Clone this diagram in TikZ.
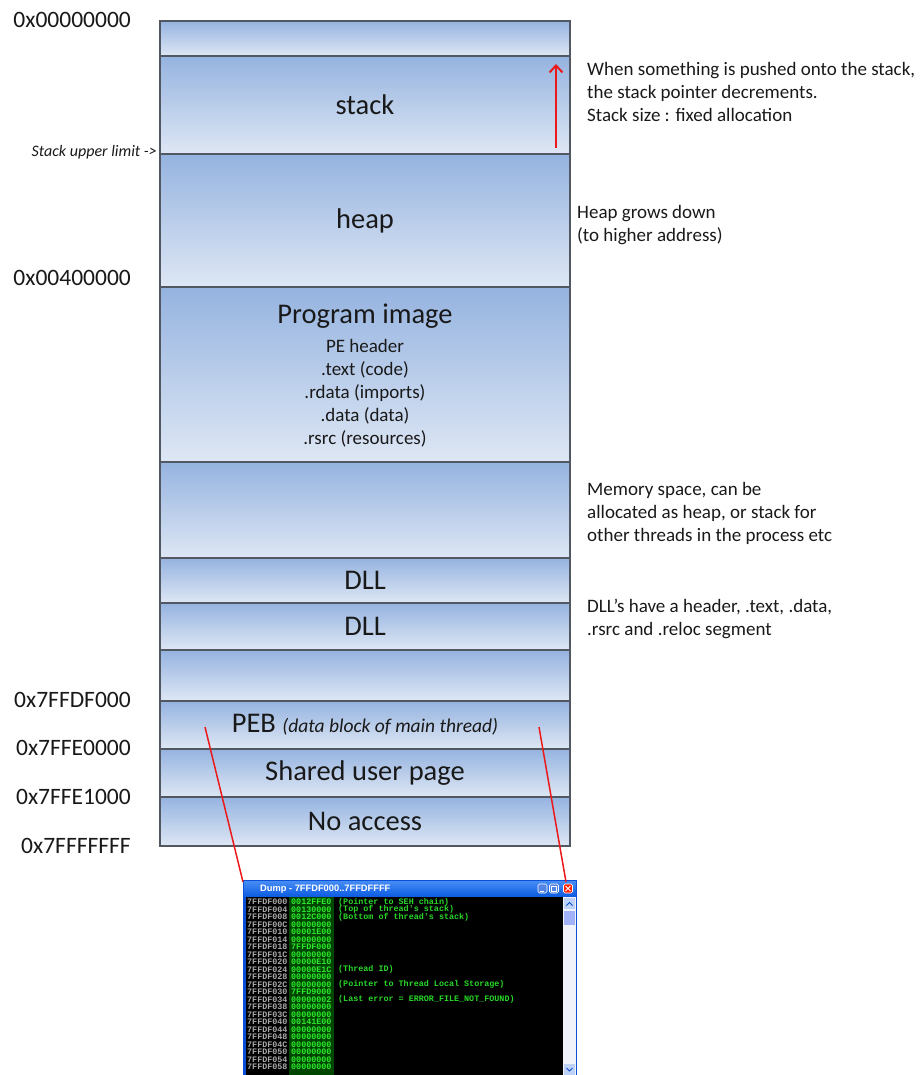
\documentclass[tikz,border=0pt]{standalone}
\usepackage{fontspec}
\setmainfont{Carlito}
\newfontfamily\monof{Liberation Mono}
\newfontfamily\titlef{Liberation Sans}
\usetikzlibrary{arrows.meta}
\definecolor{rowtop}{RGB}{149,179,224}
\definecolor{rowbot}{RGB}{222,231,244}
\definecolor{rowline}{RGB}{82,88,98}
\definecolor{txt}{RGB}{25,25,25}
\definecolor{redline}{RGB}{235,25,25}
\definecolor{winblue}{RGB}{10,80,215}
\definecolor{titletop}{RGB}{70,140,245}
\definecolor{titlebot}{RGB}{10,90,225}
\definecolor{addrgray}{RGB}{170,170,170}
\definecolor{valgreen}{RGB}{45,235,45}
\definecolor{valbg}{RGB}{0,70,0}
\definecolor{cmtgreen}{RGB}{40,215,40}
\definecolor{scrollbg}{RGB}{240,243,250}
\definecolor{scrollbtn}{RGB}{190,210,247}
\begin{document}
\begin{tikzpicture}[x=1pt,y=-1pt,
  memrow/.style={draw=rowline, line width=1.6pt, top color=rowtop, bottom color=rowbot,
    minimum width=410pt, inner sep=0pt, text=txt, font=\fontsize{28.5}{30}\selectfont},
  addr/.style={anchor=east, inner sep=0pt, text=txt, font=\fontsize{23.5}{25}\selectfont},
  note/.style={anchor=north west, align=left, inner sep=0pt, text=txt, font=\fontsize{19}{23}\selectfont},
  sub/.style={anchor=north, align=center, inner sep=0pt, text=txt, font=\fontsize{19}{23}\selectfont},
  redstroke/.style={draw=redline, line width=1.8pt},
  dumpaddr/.style={anchor=west, inner sep=0pt, text=addrgray, font=\monof\bfseries\fontsize{8.4}{8.4}\selectfont},
  dumpval/.style={anchor=west, inner sep=0pt, text=valgreen, font=\monof\bfseries\fontsize{8.4}{8.4}\selectfont},
  dumpcmt/.style={anchor=west, inner sep=0pt, text=cmtgreen, font=\monof\bfseries\fontsize{8.4}{8.4}\selectfont},
  winbtn/.style={draw=white, line width=0.6pt, fill=winblue!70!white, rounded corners=1.5pt, minimum width=9pt, minimum height=9pt, inner sep=0pt},
]
\useasboundingbox (0,0) rectangle (923,1075);

% ---------- memory rows ----------
\node[memrow, minimum height=35pt]  (r0)     at (365,38.5) {};
\node[memrow, minimum height=98pt]  (stack)  at (365,105)  {stack};
\node[memrow, minimum height=133pt] (heap)   at (365,220.5) {heap};
\node[memrow, minimum height=175pt] (prog)   at (365,374.5) {};
\node[memrow, minimum height=96pt]  (free1)  at (365,510)  {};
\node[memrow, minimum height=45pt]  (dll1)   at (365,580.5) {DLL};
\node[memrow, minimum height=47pt]  (dll2)   at (365,626.5) {DLL};
\node[memrow, minimum height=51pt]  (free2)  at (365,675.5) {};
\node[memrow, minimum height=48pt]  (peb)    at (365,725)  {PEB {\itshape\fontsize{19.5}{21}\selectfont (data block of main thread)}};
\node[memrow, minimum height=48pt]  (shared) at (365,773)  {Shared user page};
\node[memrow, minimum height=49pt]  (noacc)  at (365,821.5) {No access};

\node[inner sep=0pt, text=txt, font=\fontsize{28.5}{30}\selectfont] (progtitle) at (365,316) {Program image};
\node[sub] (progsub) at (365,339) {PE header\\.text (code)\\.rdata (imports)\\.data (data)\\.rsrc (resources)};

% ---------- addresses ----------
\node[addr] (a0) at (131,20)  {0x00000000};
\node[addr] (a1) at (131,278) {0x00400000};
\node[addr] (a2) at (131,700) {0x7FFDF000};
\node[addr] (a3) at (131,748) {0x7FFE0000};
\node[addr] (a4) at (131,797) {0x7FFE1000};
\node[addr] (a5) at (131,846) {0x7FFFFFFF};
\node[anchor=east, inner sep=0pt, text=txt, font=\itshape\fontsize{16}{17}\selectfont] (limit) at (157,152) {Stack upper limit ->};

% ---------- stack arrow ----------
\coordinate (arrS) at (556,148);
\coordinate (arrE) at (556,64);
\draw[redstroke, -{Straight Barb[length=7pt,width=13pt,line width=2pt]}] (arrS) -- (arrE);

% ---------- notes ----------
\node[note] (n1) at (587,62)  {When something is pushed onto the stack,\\the stack pointer decrements.\\Stack size : fixed allocation};
\node[note] (n2) at (577,205) {Heap grows down\\(to higher address)};
\node[note] (n3) at (587,482) {Memory space, can be\\allocated as heap, or stack for\\other threads in the process etc};
\node[note] (n4) at (587,599) {DLL’s have a header, .text, .data,\\.rsrc and .reloc segment};

% ---------- dump window ----------
\node[fill=winblue, minimum width=334pt, minimum height=200pt, inner sep=0pt, anchor=north west] (dump) at (243,880) {};
\shade[top color=titletop, bottom color=titlebot] (244,881) rectangle (576,897);
\fill[black] (246,897) rectangle (563,1080);
\fill[valbg] (289,897) rectangle (334,1080);
\fill[scrollbg] (563,897) rectangle (576,1080);
\fill[scrollbtn] (564,898) rectangle (575,909);
\fill[scrollbtn!85!blue] (564,911) rectangle (575,925);
\draw[winblue, line width=0.8pt] (566.5,905.5) -- (569.5,902.5) -- (572.5,905.5);
\fill[scrollbtn] (564,1064) rectangle (575,1075);
\draw[winblue, line width=0.8pt] (566.5,1068) -- (569.5,1071) -- (572.5,1068);
\node[anchor=west, inner sep=0pt, text=white, font=\titlef\bfseries\fontsize{9.3}{10}\selectfont] (dumptitle) at (260,889) {Dump - 7FFDF000..7FFDFFFF};
\node[winbtn] (bmin) at (542.5,888.5) {};
\node[winbtn] (bres) at (554,888.5) {};
\node[winbtn, fill=red!75!orange] (bclose) at (568,888.5) {};
\draw[white, line width=0.9pt] (539.5,891) -- (543.5,891);
\draw[white, line width=0.7pt] (551.5,886) rectangle (556.5,891);
\draw[white, line width=1pt] (565.5,886) -- (570.5,891) (570.5,886) -- (565.5,891);

\foreach \k/\a/\v in {0/000/0012FFE0, 1/004/00130000, 2/008/0012C000, 3/00C/00000000,
  4/010/00001E00, 5/014/00000000, 6/018/7FFDF000, 7/01C/00000000, 8/020/00000E10,
  9/024/00000E1C, 10/028/00000000, 11/02C/00000000, 12/030/7FFD9000, 13/034/00000002,
  14/038/00000000, 15/03C/00000000, 16/040/00141E00, 17/044/00000000, 18/048/00000000,
  19/04C/00000000, 20/050/00000000, 21/054/00000000, 22/058/00000000}{
  \node[dumpaddr] (da\k) at (247,902+7.5*\k) {7FFDF\a};
  \node[dumpval] (dv\k) at (291,902+7.5*\k) {\v};
}
\node[dumpcmt] (c0)  at (338,902)   {(Pointer to SEH chain)};
\node[dumpcmt] (c1)  at (338,909.5) {(Top of thread's stack)};
\node[dumpcmt] (c2)  at (338,917)   {(Bottom of thread's stack)};
\node[dumpcmt] (c9)  at (338,969.5) {(Thread ID)};
\node[dumpcmt] (c11) at (338,984.5) {(Pointer to Thread Local Storage)};
\node[dumpcmt] (c13) at (338,999.5) {(Last error = ERROR\_FILE\_NOT\_FOUND)};

% ---------- connectors from PEB to dump ----------
\coordinate (pebL) at (205,727);
\coordinate (pebR) at (539,727);
\coordinate (dumpL) at (243,882);
\coordinate (dumpR) at (566,882);
\draw[redstroke, line width=1.5pt] (pebL) -- (dumpL);
\draw[redstroke, line width=1.5pt] (pebR) -- (dumpR);
\end{tikzpicture}
\end{document}
